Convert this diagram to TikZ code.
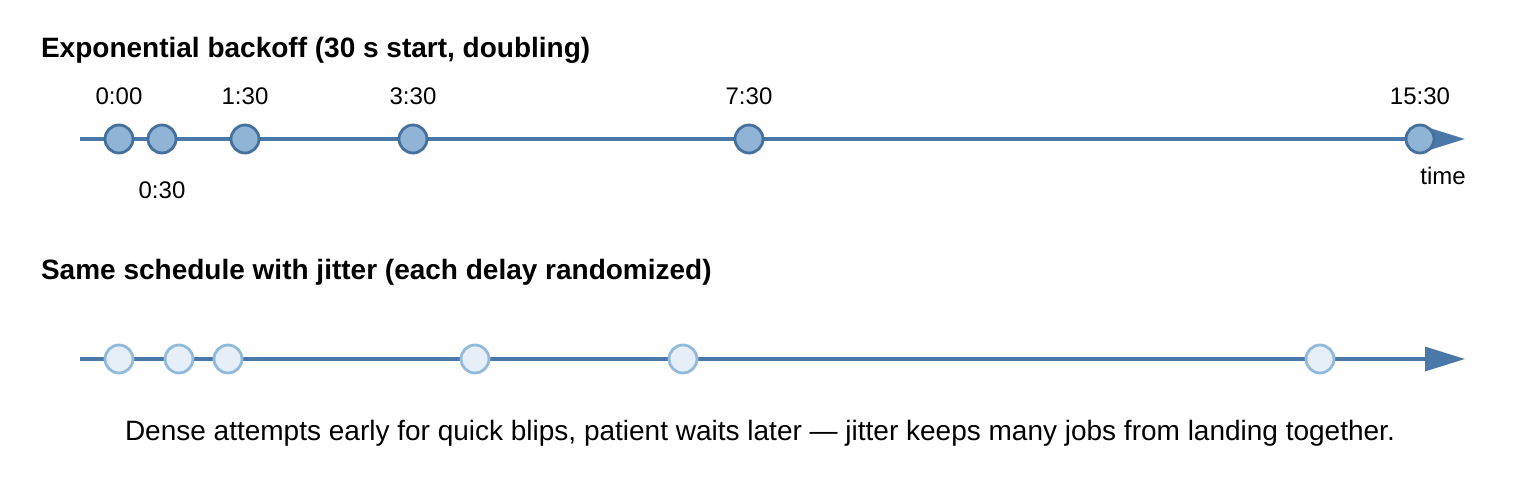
\documentclass[tikz,border=0pt]{standalone}
\usepackage{fontspec}
\setmainfont{Liberation Sans}
\usetikzlibrary{arrows.meta}
\definecolor{axisblue}{HTML}{4A78A8}
\definecolor{dotfill}{HTML}{8FB4D6}
\definecolor{dotline}{HTML}{46709C}
\definecolor{jitfill}{HTML}{E6EEF7}
\definecolor{jitline}{HTML}{92BADB}
\begin{document}
\begin{tikzpicture}[x=0.5pt,y=-0.5pt,
  axis/.style={line width=1.6pt,axisblue,-{Triangle[length=20pt,width=12pt]}},
  dot/.style={circle,draw=dotline,fill=dotfill,line width=1.4pt,minimum size=14pt,inner sep=0pt},
  jdot/.style={circle,draw=jitline,fill=jitfill,line width=1.4pt,minimum size=14pt,inner sep=0pt},
  title/.style={anchor=west,font=\fontsize{14}{16}\selectfont\bfseries},
  lbl/.style={font=\fontsize{12}{14}\selectfont},
  captext/.style={font=\fontsize{14}{16}\selectfont}]
  \useasboundingbox (0,0) rectangle (1520,480);

  \node[title] (t1) at (34,50) {Exponential backoff (30 s start, doubling)};
  \coordinate (a0) at (80,139);
  \coordinate (a1) at (1465,139);
  \draw[axis] (a0) -- (a1);
  \foreach \x/\n in {119/d1,162/d2,245/d3,413/d4,749/d5,1420/d6}
    \node[dot] (\n) at (\x,139) {};
  \node[lbl] at (119,96) {0:00};
  \node[lbl] at (162,190) {0:30};
  \node[lbl] at (245,96) {1:30};
  \node[lbl] at (413,96) {3:30};
  \node[lbl] at (749,96) {7:30};
  \node[lbl] at (1420,96) {15:30};
  \node[lbl] at (1443,176) {time};

  \node[title] (t2) at (34,272) {Same schedule with jitter (each delay randomized)};
  \coordinate (b0) at (80,359);
  \coordinate (b1) at (1465,359);
  \draw[axis] (b0) -- (b1);
  \foreach \x/\n in {119/j1,179/j2,228/j3,475/j4,683/j5,1320/j6}
    \node[jdot] (\n) at (\x,359) {};

  \node[captext] (capt) at (760,433) {Dense attempts early for quick blips, patient waits later — jitter keeps many jobs from landing together.};
\end{tikzpicture}
\end{document}
